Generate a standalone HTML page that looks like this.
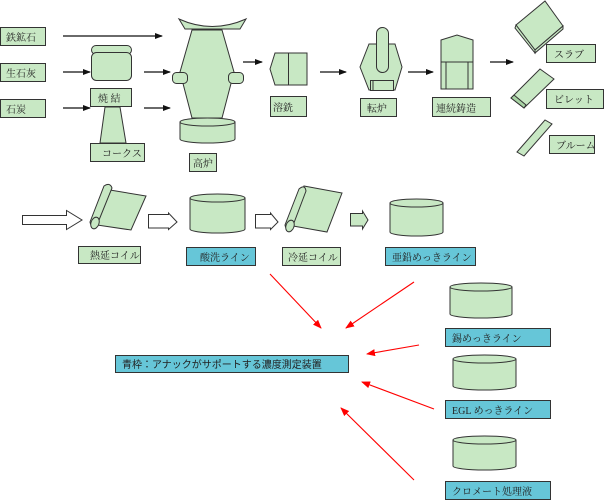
<!DOCTYPE html>
<html><head><meta charset="utf-8"><style>
html,body{margin:0;padding:0;background:#fff;}
svg{display:block}
text{font-family:"Liberation Serif","Noto Serif CJK SC","Noto Sans CJK JP",serif;font-size:10px;fill:#222}
</style></head><body>
<svg width="604" height="500" viewBox="0 0 604 500" xmlns="http://www.w3.org/2000/svg">
<defs>
<marker id="a" markerWidth="8" markerHeight="6" refX="7" refY="3" orient="auto" markerUnits="userSpaceOnUse"><path d="M0,0 L8,3 L0,6z" fill="#111"/></marker>
<marker id="r" markerWidth="9" markerHeight="7" refX="8" refY="3.5" orient="auto" markerUnits="userSpaceOnUse"><path d="M0,0 L9,3.5 L0,7z" fill="#f00"/></marker>
</defs>
<g fill="#c8e8c4" stroke="#333" stroke-width="1">
<rect x="0.5" y="27.5" width="45" height="18"/><rect x="0.5" y="63.5" width="45" height="18"/><rect x="0.5" y="99.5" width="45" height="18"/>
<rect x="91.5" y="45.5" width="40" height="9" rx="4.5"/>
<rect x="91.5" y="52.5" width="40" height="28" rx="5"/>
<rect x="90.5" y="88.5" width="41" height="18"/>
<path d="M105,107 L120,107 L126,143 L100,143z"/>
<rect x="90.5" y="143.5" width="54" height="18"/>
<path d="M192,30 L222,30 L234,72 L222,118 L192,118 L180,72z"/>
<path d="M179,19 Q212,34 246,19 L240,29 L185,29z"/>
<rect x="172.5" y="72.5" width="15" height="11" rx="4"/>
<rect x="228.5" y="72.5" width="15" height="11" rx="4"/>
<path d="M180,122 L180,139 A27.5,4 0 0 0 235,139 L235,122z"/>
<ellipse cx="207.5" cy="122" rx="27.5" ry="4"/>
<rect x="189.5" y="153.5" width="27" height="18"/>
<path d="M275,53 L307,53 L307,85 L275,85 L270,69z"/><line x1="288.5" y1="53" x2="288.5" y2="85"/>
<rect x="270.5" y="96.5" width="36" height="20"/>
<path d="M369,44 L395,44 L402,67 L395,90 L369,90 L360,67z"/>
<rect x="376.5" y="27.5" width="12" height="45" rx="6"/>
<rect x="370.5" y="80.5" width="23" height="10"/><line x1="373" y1="81" x2="373" y2="90"/>
<rect x="360.5" y="98.5" width="36" height="18"/>
<path d="M441,40 L457,35 L473,40 L473,89 L441,89z"/><line x1="441" y1="62" x2="473" y2="62"/><line x1="446" y1="62" x2="446" y2="89"/><line x1="468" y1="62" x2="468" y2="89"/>
<rect x="432.5" y="97.5" width="58" height="19"/>
<path d="M516,25 L545,1 L563,26 L535,50z"/><path d="M516,25 L535,50 L535,53 L515,28z"/><path d="M535,50 L563,26 L563,29 L535,53z"/>
<rect x="546.5" y="44.5" width="49" height="18"/>
<path d="M511,98 L540,69 L554,79 L524,108z"/><path d="M511,98 L524,108 L526,105 L514,95z" fill="#a8d4a4"/>
<rect x="546.5" y="89.5" width="57" height="19"/>
<path d="M517,152 L545,120 L552,124 L524,156z"/>
<rect x="549.5" y="135.5" width="45" height="18"/>
</g>
<g stroke="#111" stroke-width="1.2" marker-end="url(#a)">
<line x1="63" y1="36" x2="162" y2="36"/><line x1="63" y1="72" x2="90" y2="72"/><line x1="63" y1="108" x2="90" y2="108"/>
<line x1="144" y1="72" x2="170" y2="72"/><line x1="144" y1="108" x2="170" y2="108"/>
<line x1="243" y1="62" x2="262" y2="62"/><line x1="320" y1="72" x2="346" y2="72"/><line x1="408" y1="72" x2="433" y2="72"/><line x1="490" y1="62" x2="513" y2="62"/>
</g>
<text x="6" y="41">鉄鉱石</text><text x="6" y="77">生石灰</text><text x="6" y="113">石炭</text>
<text x="98" y="102">焼 結</text><text x="102" y="157" font-size="8">コークス</text>
<text x="193" y="167">高炉</text><text x="273" y="111">溶銑</text><text x="367" y="112">転炉</text><text x="436" y="112">連続鋳造</text>
<text x="554" y="58" font-size="8">スラブ</text><text x="554" y="103" font-size="8">ビレット</text><text x="556" y="149" font-size="8">ブルーム</text>
<g fill="#fff" stroke="#333">
<path d="M22.5,215.5 L66.5,215.5 L66.5,210.5 L82,220 L66.5,229.5 L66.5,224.5 L22.5,224.5z"/>
<path d="M148.5,214.5 L168.5,214.5 L168.5,213 L177,222 L168.5,229.5 L168.5,228 L148.5,228z"/>
<path d="M255.5,214.5 L270.5,214.5 L270.5,213 L278,222 L270.5,229.5 L270.5,228 L255.5,228z"/>
</g>
<g fill="#c8e8c4" stroke="#333">
<path d="M350.5,213.5 L362.5,213.5 L362.5,211 L368,220 L362.5,229 L362.5,226 L350.5,226z"/>
<path d="M110,190 L146,196 L131,230 L97,225z"/><path d="M104,186 Q110,182 112,188 L97,225 Q91,228 90,222z"/><ellipse cx="95" cy="223" rx="4" ry="6" transform="rotate(20 95 223)"/>
<path d="M304,186 L342,193 L327,232 L293,226z"/><path d="M299,189 Q305,184 306,191 L292,228 Q286,231 285,225z"/><ellipse cx="290" cy="226" rx="4" ry="6" transform="rotate(20 290 226)"/>
<path d="M190,198 L190,229 A27.5,4 0 0 0 245,229 L245,198z"/><ellipse cx="217.5" cy="198" rx="27.5" ry="4"/>
<path d="M390,203 L390,232 A26.5,4 0 0 0 443,232 L443,203z"/><ellipse cx="416.5" cy="203" rx="26.5" ry="4"/>
<path d="M450,287 L450,314 A31,4 0 0 0 512,314 L512,287z"/><ellipse cx="481" cy="287" rx="31" ry="4"/>
<path d="M453,359 L453,386 A31.5,4 0 0 0 516,386 L516,359z"/><ellipse cx="484.5" cy="359" rx="31.5" ry="4"/>
<path d="M453,440 L453,466 A31.5,4 0 0 0 516,466 L516,440z"/><ellipse cx="484.5" cy="440" rx="31.5" ry="4"/>
<rect x="78.5" y="246.5" width="62" height="17"/>
<rect x="282.5" y="247.5" width="58" height="18"/>
</g>
<g fill="#66c6d8" stroke="#333">
<rect x="186.5" y="247.5" width="69" height="18"/>
<rect x="385.5" y="247.5" width="90" height="18"/>
<rect x="445.5" y="328.5" width="105" height="18"/>
<rect x="445.5" y="400.5" width="105" height="18"/>
<rect x="445.5" y="481.5" width="105" height="18"/>
<rect x="115.5" y="355.5" width="233" height="17"/>
</g>
<text x="90" y="259">熱延コイル</text><text x="200" y="261">酸洗ライン</text><text x="288" y="261">冷延コイル</text><text x="392" y="261">亜鉛めっきライン</text>
<text x="452" y="342">錫めっきライン</text><text x="452" y="414">EGL めっきライン</text><text x="452" y="495">クロメート処理液</text>
<text x="122" y="368" style="font-family:'Liberation Sans','Noto Sans CJK JP',sans-serif" font-size="10">青枠：アナックがサポートする濃度測定装置</text>
<g stroke="#f00" stroke-width="1.1" marker-end="url(#r)">
<line x1="270" y1="274" x2="321" y2="328"/><line x1="414" y1="282" x2="346" y2="328"/><line x1="419" y1="345" x2="367" y2="354"/><line x1="434" y1="409" x2="362" y2="382"/><line x1="414" y1="480" x2="341" y2="408"/>
</g>
</svg>
</body></html>
